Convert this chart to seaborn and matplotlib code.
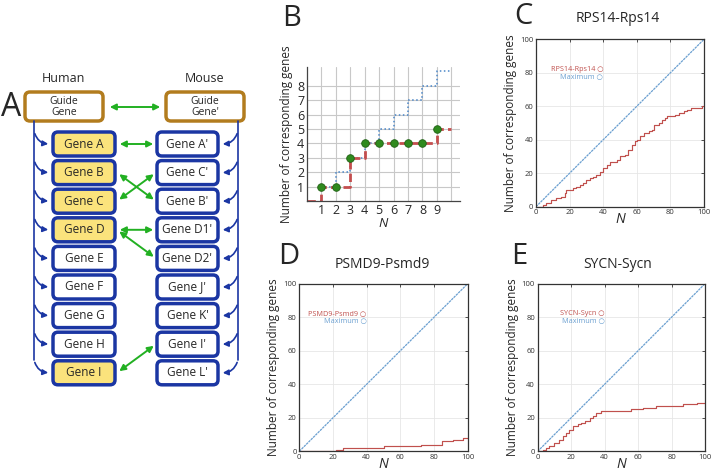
import numpy as np
import pandas as pd
import seaborn as sns
import matplotlib.pyplot as plt
from matplotlib.patches import FancyBboxPatch, FancyArrowPatch

# Panel A: ortholog diagram
human_genes = ['Gene A', 'Gene B', 'Gene C', 'Gene D', 'Gene E', 'Gene F', 'Gene G', 'Gene H', 'Gene I']
human_highlight = [True, True, True, True, False, False, False, False, True]
mouse_genes = ["Gene A'", "Gene C'", "Gene B'", "Gene D1'", "Gene D2'", "Gene J'", "Gene K'", "Gene I'", "Gene L'"]
links = [(0, 0), (1, 2), (2, 1), (3, 3), (3, 4), (8, 7)]  # (human row, mouse row)

# Panel B: toy example
b_n = [0, 1, 2, 3, 4, 5, 6, 7, 8, 9, 10]
b_found = [0, 1, 1, 3, 4, 4, 4, 4, 4, 5, 5]
b_max_n = [1, 2, 3, 4, 5, 6, 7, 8, 9, 10]
b_max = [1, 2, 3, 4, 5, 6, 7, 8, 9, 9]
b_dot_n = [1, 2, 3, 4, 5, 6, 7, 8, 9]
b_dot = [1, 1, 3, 4, 4, 4, 4, 4, 5]

# Panels C-E: step curves (N where value changes, value)
c_n = [0, 4, 6, 9, 12, 15, 17, 18, 22, 24, 26, 28, 30, 32, 34, 36, 38, 40, 42, 44, 48, 50,
       53, 55, 57, 59, 60, 62, 64, 67, 69, 70, 73, 75, 77, 78, 83, 85, 88, 90, 92, 94, 99, 100]
c_val = [0, 1, 2, 4, 5, 6, 8, 10, 11, 12, 13, 14, 16, 17, 18, 19, 21, 23, 25, 27, 28, 30,
         31, 34, 37, 39, 40, 42, 44, 45, 46, 49, 50, 52, 53, 54, 55, 56, 57, 58, 59, 59, 60, 60]
d_n = [0, 22, 26, 50, 72, 85, 91, 97, 100]
d_val = [0, 1, 2, 3, 4, 6, 7, 8, 8]
e_n = [0, 3, 5, 7, 10, 13, 15, 17, 19, 21, 24, 26, 28, 31, 33, 35, 38, 56, 63, 71, 87, 95, 100]
e_val = [0, 1, 2, 3, 5, 7, 9, 11, 13, 15, 16, 17, 18, 20, 21, 23, 24, 25, 26, 27, 28, 29, 29]
max_n = [0, 100]
max_val = [0, 100]

RED = '#c0504d'
BLUE = '#6a9fd0'
DARKBLUE = '#1b36a3'
GREEN = '#22b022'

sns.set_theme(style='white')
plt.rcParams['font.family'] = ['Open Sans', 'DejaVu Sans']

W, H = 711, 472
fig = plt.figure(figsize=(W / 100, H / 100), dpi=100)


def frac(left, top, right, bottom):
    return [left / W, 1 - bottom / H, (right - left) / W, (bottom - top) / H]


# ---------- Panel A ----------
ax_a = fig.add_axes([0, 0, 1, 1])
ax_a.set_xlim(0, W)
ax_a.set_ylim(H, 0)
ax_a.axis('off')

ax_a.text(11, 107, 'A', fontsize=23, ha='center', va='center')
ax_a.text(63, 79, 'Human', fontsize=9, ha='center', va='center')
ax_a.text(205, 79, 'Mouse', fontsize=9, ha='center', va='center')

for x0 in (25, 166):
    ax_a.add_patch(FancyBboxPatch((x0, 92), 78, 29, boxstyle='round,pad=0,rounding_size=5',
                                  fc='white', ec='#b27c1e', lw=2.5))
ax_a.text(64, 107, 'Guide\nGene', fontsize=7.5, ha='center', va='center', linespacing=0.95)
ax_a.text(205, 107, "Guide\nGene'", fontsize=7.5, ha='center', va='center', linespacing=0.95)
ax_a.add_patch(FancyArrowPatch((107, 107), (163, 107), arrowstyle='<|-|>', mutation_scale=9,
                               color=GREEN, lw=1.4))

row_y = [144 + 28.6 * i for i in range(len(human_genes))]
for i, y in enumerate(row_y):
    fc = '#fbe37c' if human_highlight[i] else 'white'
    ax_a.add_patch(FancyBboxPatch((53, y - 12), 62, 24, boxstyle='round,pad=0,rounding_size=5',
                                  fc=fc, ec=DARKBLUE, lw=2.5))
    ax_a.text(84, y, human_genes[i], fontsize=8.5, ha='center', va='center')
    ax_a.add_patch(FancyBboxPatch((157, y - 12), 61, 24, boxstyle='round,pad=0,rounding_size=5',
                                  fc='white', ec=DARKBLUE, lw=2.5))
    ax_a.text(187.5, y, mouse_genes[i], fontsize=8.5, ha='center', va='center')
    # blue brackets
    ax_a.add_patch(FancyArrowPatch((34, y - 13), (51, y), arrowstyle='-|>', mutation_scale=8,
                                   connectionstyle='arc3,rad=0.4', color=DARKBLUE, lw=1.2))
    ax_a.add_patch(FancyArrowPatch((238, y - 13), (220, y), arrowstyle='-|>', mutation_scale=8,
                                   connectionstyle='arc3,rad=-0.4', color=DARKBLUE, lw=1.2))
ax_a.plot([34, 34], [121, row_y[-1] - 13], color=DARKBLUE, lw=1.2)
ax_a.plot([238, 238], [121, row_y[-1] - 13], color=DARKBLUE, lw=1.2)

for hl, ml in links:
    ax_a.add_patch(FancyArrowPatch((117, row_y[hl]), (156, row_y[ml]), arrowstyle='<|-|>',
                                   mutation_scale=9, color=GREEN, lw=1.4))

# ---------- Panel B ----------
ax_b = fig.add_axes(frac(307, 67, 460, 201))
sns.lineplot(x=b_max_n, y=b_max, ax=ax_b, color='#4a86c8', lw=1.1, linestyle=':',
             drawstyle='steps-post', estimator=None)
sns.lineplot(x=b_n, y=b_found, ax=ax_b, color='#c44e4e', lw=2.0,
             drawstyle='steps-post', estimator=None)
ax_b.lines[-1].set_dashes([3, 1.5])
sns.scatterplot(x=b_dot_n, y=b_dot, ax=ax_b, color='#2f8a1e', s=30, edgecolor='#1f6014',
                linewidth=0.6, zorder=5)
ax_b.set_xlim(0, 10.6)
ax_b.set_ylim(0, 9.3)
ax_b.set_xticks(range(1, 11))
ax_b.set_xticklabels([str(i) for i in range(1, 10)] + [''])
ax_b.set_yticks(range(1, 9))
ax_b.grid(True, color='#c8c8c8', lw=0.8)
ax_b.set_axisbelow(True)
ax_b.tick_params(length=0, labelsize=9, pad=2)
for s in ('top', 'right'):
    ax_b.spines[s].set_visible(False)
for s in ('left', 'bottom'):
    ax_b.spines[s].set_color('#444444')
    ax_b.spines[s].set_linewidth(0.9)
ax_b.set_xlabel('N', fontsize=9.5, style='italic', labelpad=0)
ax_b.set_ylabel('Number of corresponding genes', fontsize=8.5, labelpad=3)
fig.text(292 / W, 1 - 18 / H, 'B', fontsize=21, ha='center', va='center')


# ---------- Panels C-E ----------
def curve_panel(rect, n, val, name, letter, letter_xy, title_xy):
    ax = fig.add_axes(rect)
    sns.lineplot(x=max_n, y=max_val, ax=ax, color=BLUE, lw=0.9, estimator=None)
    ax.lines[-1].set_dashes([2, 0.6])
    sns.lineplot(x=n, y=val, ax=ax, color=RED, lw=0.85, drawstyle='steps-post', estimator=None)
    ax.set_xlim(0, 100)
    ax.set_ylim(0, 100)
    ax.set_xticks(range(0, 101, 20))
    ax.set_yticks(range(0, 101, 20))
    ax.grid(True, color='#e6e6e6', lw=0.6)
    ax.tick_params(direction='in', length=2.5, width=0.6, labelsize=5.5, pad=2,
                   top=True, right=True, colors='#333333')
    for s in ax.spines.values():
        s.set_color('#333333')
        s.set_linewidth(0.9)
    ax.set_xlabel('N', fontsize=10, style='italic', labelpad=-3)
    ax.set_ylabel('Number of corresponding genes', fontsize=8.5, labelpad=2)
    ax.text(40, 82, name + ' \u25cb', fontsize=5.2, color=RED, ha='right', va='center')
    ax.text(40, 78, 'Maximum \u25cb', fontsize=5.2, color=BLUE, ha='right', va='center')
    fig.text(title_xy[0] / W, 1 - title_xy[1] / H, name, fontsize=10, ha='center', va='center')
    fig.text(letter_xy[0] / W, 1 - letter_xy[1] / H, letter, fontsize=21, ha='center', va='center')
    return ax


curve_panel(frac(536, 39.3, 704, 206.7), c_n, c_val, 'RPS14-Rps14', 'C', (523, 17), (618, 18))
curve_panel(frac(299.3, 283.7, 467.7, 451.3), d_n, d_val, 'PSMD9-Psmd9', 'D', (289, 257), (382, 265))
curve_panel(frac(537.7, 283.7, 705, 451.3), e_n, e_val, 'SYCN-Sycn', 'E', (519, 257), (618, 265))

fig.savefig('out.png', dpi=100)
